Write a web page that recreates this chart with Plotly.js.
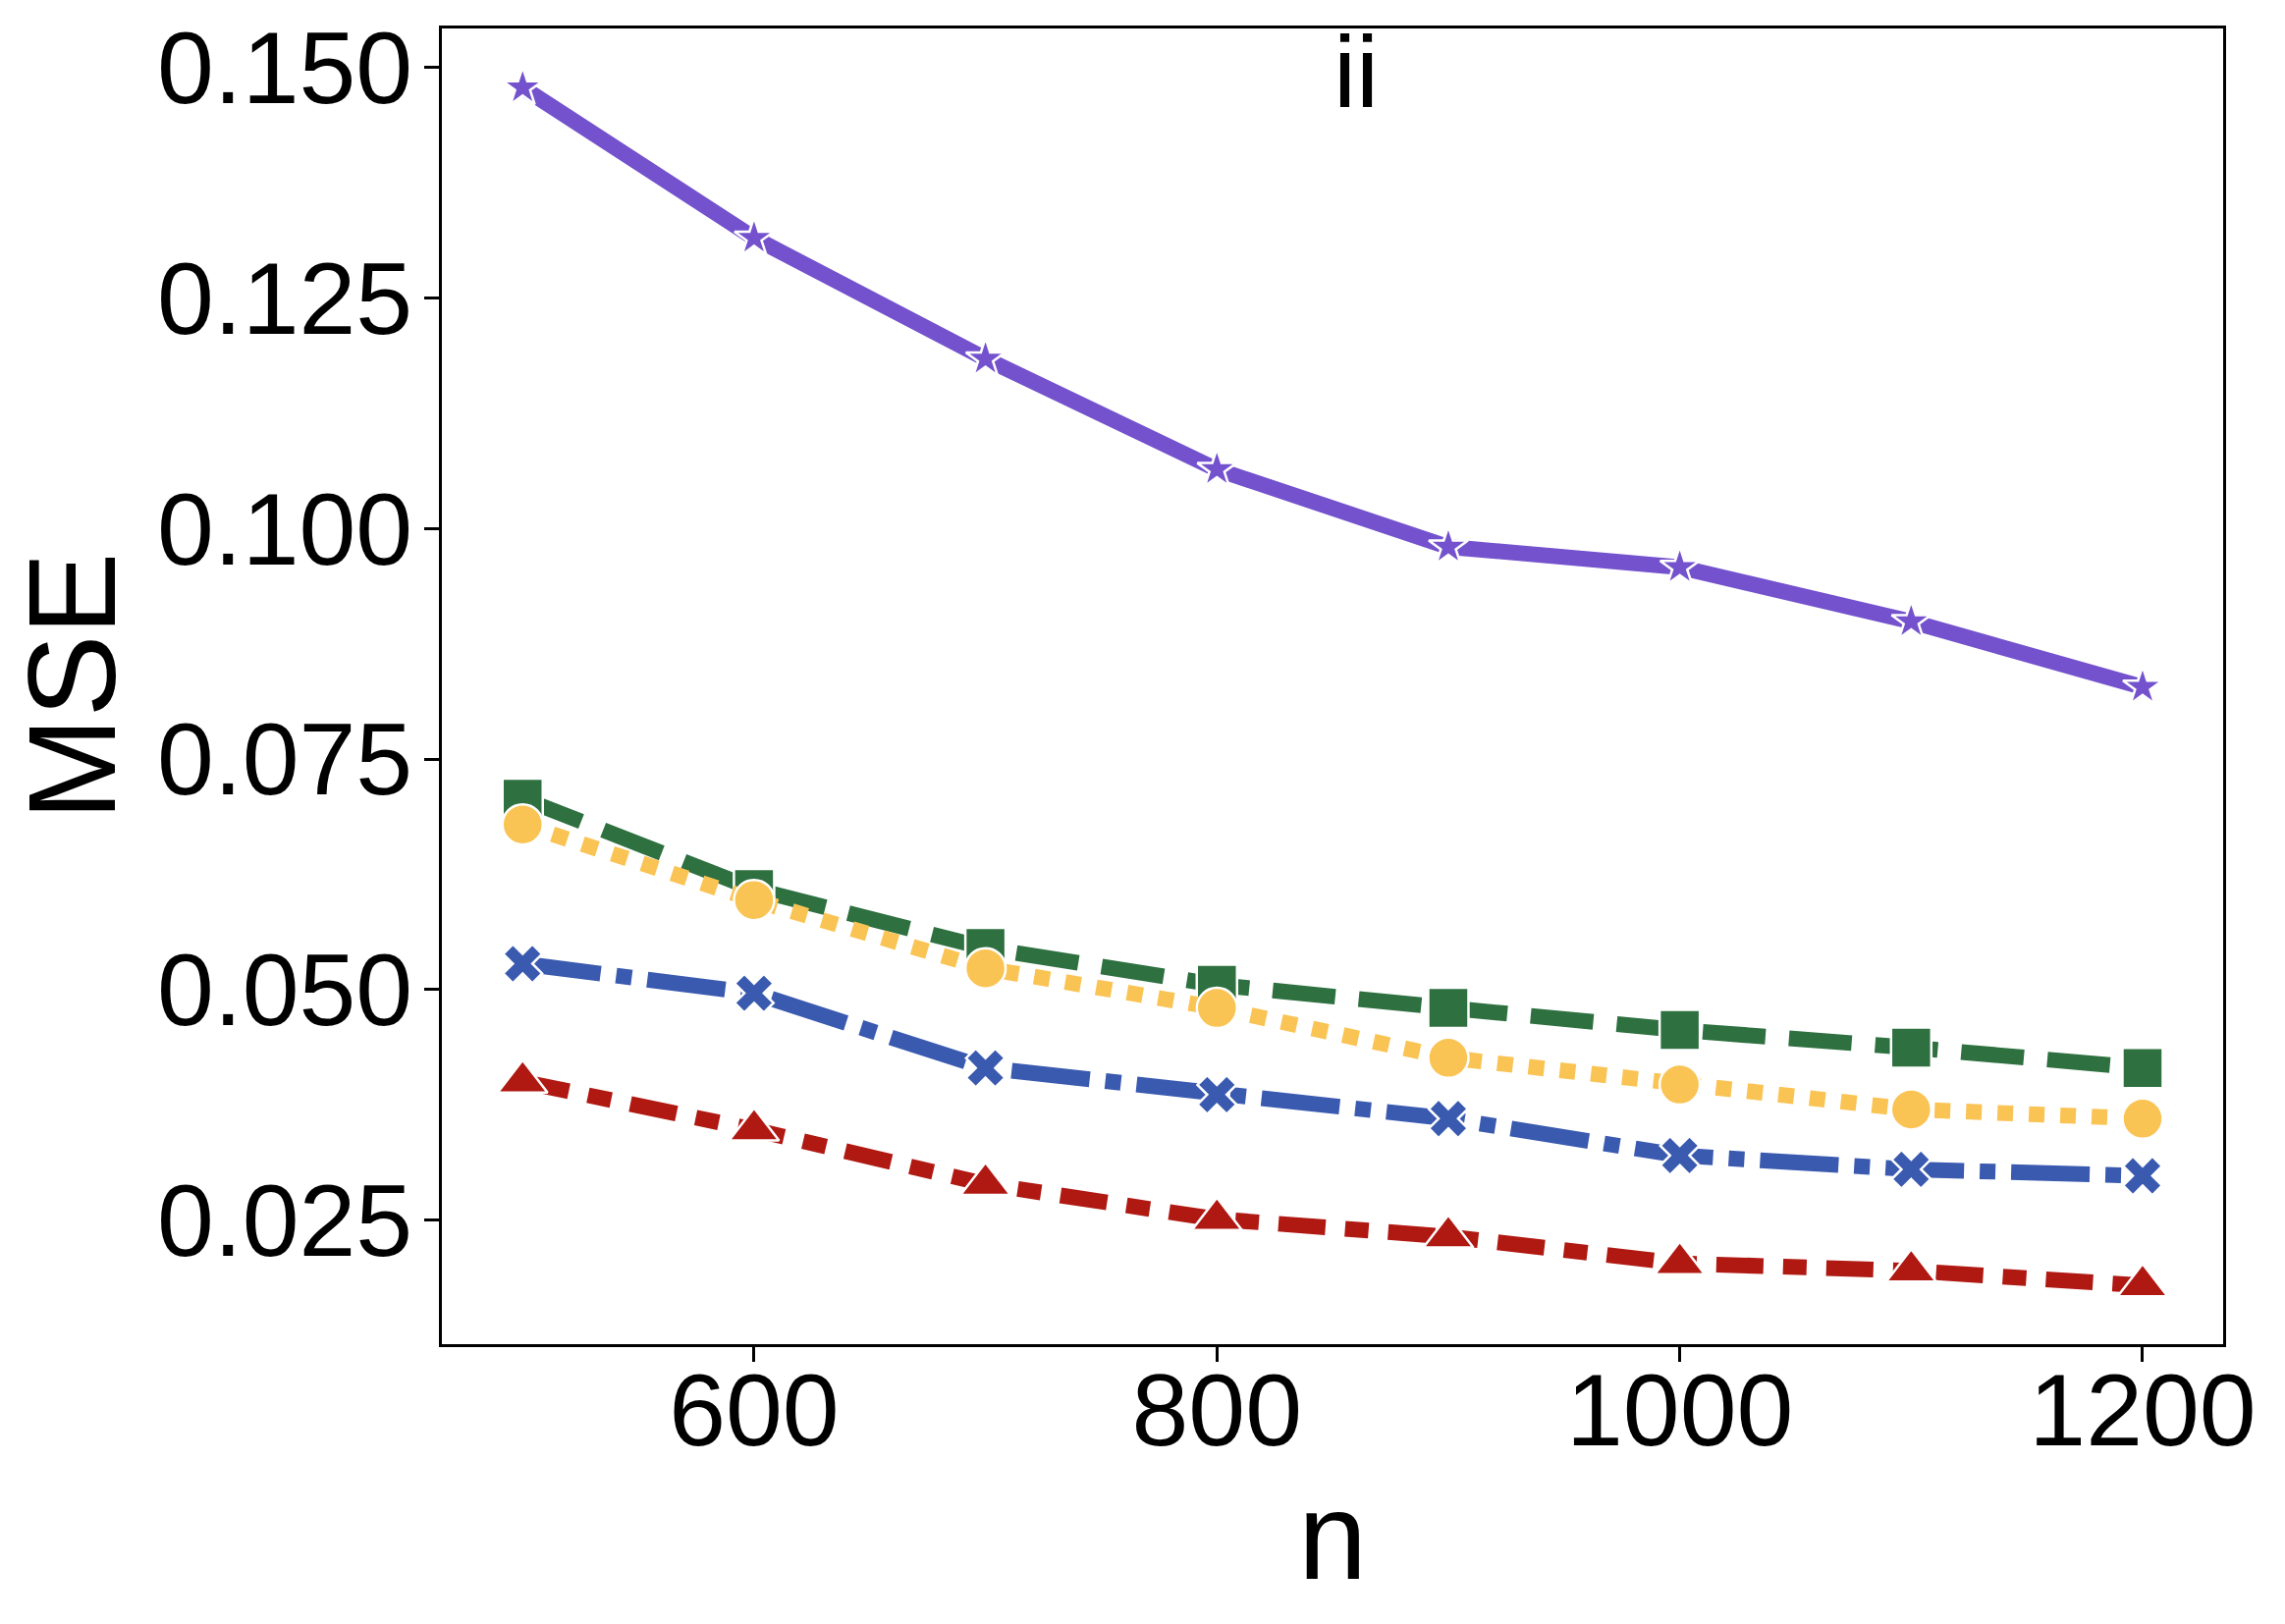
<!DOCTYPE html>
<html>
<head>
<meta charset="utf-8">
<script src="https://cdn.plot.ly/plotly-3.0.1.min.js"></script>
<style>
  html, body { margin: 0; padding: 0; background: #ffffff; }
  #chart { width: 2327px; height: 1654px; }
</style>
</head>
<body>
<div id="chart"></div>
<script>
// ---- data ----
const n = [500, 600, 700, 800, 900, 1000, 1100, 1200];
const msePurple = [0.1478, 0.1315, 0.1184, 0.1064, 0.0980, 0.0958, 0.0899, 0.0828];
const mseGreen  = [0.0707, 0.0609, 0.0545, 0.0505, 0.0480, 0.0456, 0.0437, 0.0415];
const mseYellow = [0.0679, 0.0597, 0.0523, 0.0480, 0.0426, 0.0397, 0.0370, 0.0360];
const mseRed    = [0.0400, 0.0348, 0.0289, 0.0251, 0.0232, 0.0203, 0.0195, 0.0179];
const mseBlue   = [0.0528, 0.0496, 0.0415, 0.0386, 0.0360, 0.0320, 0.0305, 0.0298];
const xTickVals = [600, 800, 1000, 1200];
const yTickVals = [0.025, 0.050, 0.075, 0.100, 0.125, 0.150];
const yTickText = ["0.025", "0.050", "0.075", "0.100", "0.125", "0.150"];
const panelLabel = "ii";

const FONT = "Liberation Sans, Arial, Helvetica, sans-serif";
const LW = 16;

function trace(y, color, dash, symbol, size) {
  return {
    x: n, y: y, type: "scatter", mode: "lines+markers",
    line: { color: color, width: LW, dash: dash },
    marker: { symbol: symbol, size: size, color: color, line: { color: "#ffffff", width: 2.5 } },
    showlegend: false, cliponaxis: false
  };
}

const data = [
  trace(msePurple, "#7452cd", "solid", "star", 30),
  trace(mseGreen,  "#2e7040", "64px,24px", "square", 41),
  trace(mseYellow, "#fac455", "16px,16px", "circle", 41),
  trace(mseRed,    "#b01812", "48px,20px,24px,20px", "triangle-up", 44),
  trace(mseBlue,   "#3a5ab0", "80px,16px,16px,16px", "x", 35)
];

const layout = {
  width: 2327, height: 1654,
  margin: { l: 450, r: 63, t: 29, b: 285, pad: 0 },
  paper_bgcolor: "#ffffff", plot_bgcolor: "#ffffff",
  font: { family: FONT, color: "#000000", size: 104 },
  showlegend: false,
  xaxis: {
    range: [465.1, 1234.8], autorange: false,
    tickmode: "array", tickvals: xTickVals,
    ticks: "outside", ticklen: 15, tickwidth: 3, tickcolor: "#000000",
    ticklabelstandoff: -40,
    showline: true, linecolor: "#000000", linewidth: 3, mirror: true,
    showgrid: false, zeroline: false,
    tickfont: { family: FONT, size: 104, color: "#000000" },
    title: { text: "n", font: { family: FONT, size: 126, color: "#000000" }, standoff: 20 }
  },
  yaxis: {
    range: [0.01154, 0.15422], autorange: false,
    tickmode: "array", tickvals: yTickVals, ticktext: yTickText,
    ticks: "outside", ticklen: 15, tickwidth: 3, tickcolor: "#000000",
    ticklabelstandoff: -9,
    showline: true, linecolor: "#000000", linewidth: 3, mirror: true,
    showgrid: false, zeroline: false,
    tickfont: { family: FONT, size: 104, color: "#000000" },
    title: { text: "MSE", font: { family: FONT, size: 126, color: "#000000" }, standoff: 0 }
  },
  annotations: [{
    text: panelLabel, xref: "paper", yref: "paper", x: 0.5132, y: 1,
    xanchor: "center", yanchor: "top", yshift: 16, showarrow: false,
    font: { family: FONT, size: 104, color: "#000000" }
  }]
};

Plotly.newPlot("chart", data, layout, { displayModeBar: false, staticPlot: true });
</script>
</body>
</html>
